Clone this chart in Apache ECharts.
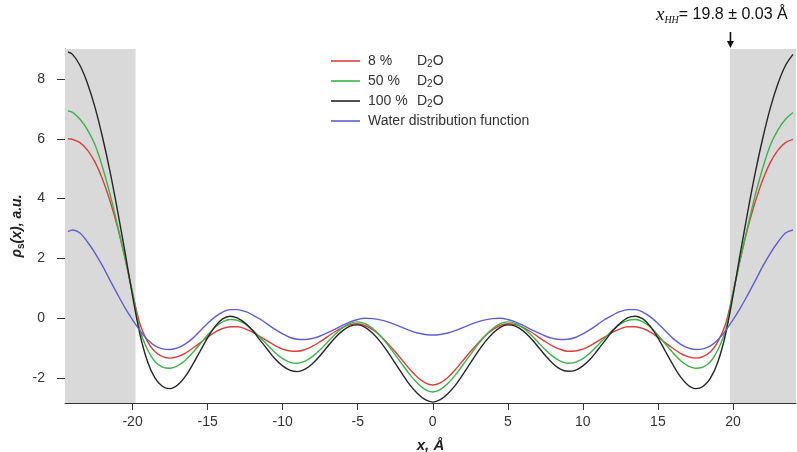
<!DOCTYPE html>
<html>
<head>
<meta charset="utf-8">
<script src="https://cdn.jsdelivr.net/npm/echarts@6/dist/echarts.min.js"></script>
<style>
  html, body { margin: 0; padding: 0; background: #ffffff; }
  #chart { width: 797px; height: 452px; }
</style>
</head>
<body>
<div id="chart"></div>
<script>
// Position across the bilayer, Å
const xValues = [
  -24.3, -24, -23.5, -23, -22.5, -22, -21.5, -21, -20.5, -20, -19.5, -19, -18.5, -18, -17.5, -17,
  -16.5, -16, -15.5, -15, -14.5, -14, -13.5, -13, -12.5, -12, -11.5, -11, -10.5, -10, -9.5, -9,
  -8.5, -8, -7.5, -7, -6.5, -6, -5.5, -5, -4.5, -4, -3.5, -3, -2.5, -2, -1.5, -1, -0.5,
  0,
  0.5, 1, 1.5, 2, 2.5, 3, 3.5, 4, 4.5, 5, 5.5, 6, 6.5, 7, 7.5, 8, 8.5, 9, 9.5, 10,
  10.5, 11, 11.5, 12, 12.5, 13, 13.5, 14, 14.5, 15, 15.5, 16, 16.5, 17, 17.5, 18,
  18.5, 19, 19.5, 20, 20.5, 21, 21.5, 22, 22.5, 23, 23.5, 24
];

// Scattering length density profiles
const d2o8 = [
  6.0, 5.98, 5.87, 5.62, 5.22, 4.65, 3.92, 3.05, 2.0, 0.85, -0.2, -0.78, -1.12, -1.28, -1.33, -1.28,
  -1.17, -1.0, -0.82, -0.63, -0.46, -0.34, -0.28, -0.28, -0.35, -0.46, -0.61, -0.76, -0.91, -1.03, -1.09, -1.1,
  -1.04, -0.93, -0.78, -0.61, -0.44, -0.3, -0.21, -0.18, -0.24, -0.38, -0.58, -0.84, -1.12, -1.42, -1.72, -1.98, -2.16,
  -2.23,
  -2.16, -1.98, -1.72, -1.42, -1.12, -0.84, -0.58, -0.38, -0.24, -0.18, -0.21, -0.3, -0.44, -0.61, -0.78, -0.93, -1.04, -1.1, -1.09, -1.03,
  -0.91, -0.76, -0.61, -0.46, -0.35, -0.28, -0.28, -0.34, -0.46, -0.63, -0.82, -1.0, -1.17, -1.28, -1.33, -1.28,
  -1.12, -0.78, -0.2, 0.85, 2.0, 3.05, 3.92, 4.65, 5.22, 5.62, 5.87, 5.98
];

const d2o50 = [
  6.93, 6.88, 6.65, 6.3, 5.8, 5.05, 4.15, 3.1, 2.0, 0.85, -0.4, -1.05, -1.45, -1.63, -1.67, -1.59,
  -1.41, -1.15, -0.86, -0.56, -0.3, -0.12, -0.04, -0.07, -0.19, -0.39, -0.64, -0.9, -1.15, -1.35, -1.47, -1.5,
  -1.43, -1.27, -1.05, -0.79, -0.53, -0.31, -0.17, -0.12, -0.18, -0.34, -0.58, -0.88, -1.22, -1.56, -1.9, -2.18, -2.38,
  -2.46,
  -2.38, -2.18, -1.9, -1.56, -1.22, -0.88, -0.58, -0.34, -0.18, -0.12, -0.17, -0.31, -0.53, -0.79, -1.05, -1.27, -1.43, -1.5, -1.47, -1.35,
  -1.15, -0.9, -0.64, -0.39, -0.19, -0.07, -0.04, -0.12, -0.3, -0.56, -0.86, -1.15, -1.41, -1.59, -1.67, -1.63,
  -1.45, -1.05, -0.4, 0.85, 2.0, 3.1, 4.15, 5.05, 5.8, 6.3, 6.65, 6.88
];

const d2o100 = [
  8.9, 8.82, 8.45, 7.85, 7.05, 6.05, 4.9, 3.6, 2.2, 0.75, -0.55, -1.45, -2.0, -2.28, -2.35, -2.23,
  -1.95, -1.55, -1.1, -0.65, -0.27, -0.02, 0.07, 0.01, -0.16, -0.41, -0.73, -1.05, -1.36, -1.59, -1.74, -1.78,
  -1.7, -1.51, -1.24, -0.94, -0.65, -0.41, -0.26, -0.22, -0.3, -0.5, -0.78, -1.12, -1.5, -1.88, -2.24, -2.52, -2.72,
  -2.8,
  -2.72, -2.52, -2.24, -1.88, -1.5, -1.12, -0.78, -0.5, -0.3, -0.22, -0.26, -0.41, -0.65, -0.94, -1.24, -1.51, -1.7, -1.77, -1.74, -1.59,
  -1.36, -1.05, -0.73, -0.41, -0.16, 0.02, 0.07, -0.02, -0.27, -0.65, -1.1, -1.55, -1.95, -2.23, -2.35, -2.28,
  -2.0, -1.45, -0.55, 0.75, 2.2, 3.6, 4.9, 6.05, 7.05, 7.85, 8.45, 8.82
];

const water = [
  2.9, 2.95, 2.85, 2.55, 2.18, 1.75, 1.27, 0.8, 0.35, -0.05, -0.42, -0.72, -0.92, -1.02, -1.04, -0.99,
  -0.86, -0.67, -0.42, -0.17, 0.05, 0.21, 0.29, 0.29, 0.23, 0.11, -0.03, -0.2, -0.37, -0.52, -0.64, -0.7,
  -0.71, -0.67, -0.59, -0.48, -0.36, -0.23, -0.12, -0.04, 0.0, -0.01, -0.05, -0.12, -0.21, -0.31, -0.41, -0.49, -0.54,
  -0.56,
  -0.54, -0.49, -0.41, -0.31, -0.21, -0.12, -0.05, -0.01, 0.0, -0.04, -0.12, -0.23, -0.36, -0.48, -0.59, -0.67, -0.71, -0.7, -0.64, -0.52,
  -0.37, -0.2, -0.03, 0.11, 0.23, 0.29, 0.29, 0.21, 0.05, -0.17, -0.42, -0.67, -0.86, -0.99, -1.04, -1.02,
  -0.92, -0.72, -0.42, -0.05, 0.35, 0.8, 1.27, 1.75, 2.18, 2.55, 2.85, 2.95
];

const seriesNames = ['8 %', '50 %', '100 %', 'Water distribution function'];
const seriesColors = ['#d8403c', '#3cb34a', '#262626', '#5f5fd0'];
const xTicks = [-20, -15, -10, -5, 0, 5, 10, 15, 20];
const yTicks = [-2, 0, 2, 4, 6, 8];
const xRange = [-24.5, 24.2];
const yRange = [-2.83, 9];
const xHH = 19.8;   // head-to-head distance half-width

const SANS = "'Liberation Sans', Arial, sans-serif";
const SERIF = "'Liberation Serif', 'Times New Roman', serif";

const chart = echarts.init(document.getElementById('chart'), null, { renderer: 'canvas' });
const pairs = ys => xValues.map((x, i) => [x, ys[i]]);

const profileSeries = [d2o8, d2o50, d2o100, water].map((ys, i) => ({
  name: seriesNames[i],
  type: 'line',
  data: pairs(ys),
  smooth: 0.35,
  symbol: 'none',
  showSymbol: false,
  z: 3,
  lineStyle: { color: seriesColors[i], width: 1.4 },
  itemStyle: { color: seriesColors[i] }
}));

const option = {
  animation: false,
  backgroundColor: '#ffffff',
  grid: { left: 65, top: 49, width: 731, height: 354, containLabel: false, outerBoundsMode: 'none' },
  legend: {
    data: seriesNames,
    orient: 'vertical',
    left: 331,
    top: 54,
    padding: 0,
    icon: 'rect',
    itemWidth: 29,
    itemHeight: 1.6,
    itemGap: 5,
    selectedMode: false,
    textStyle: {
      fontFamily: SANS, fontSize: 14, color: '#333', padding: [0, 0, 0, 3],
      rich: {
        p: { fontFamily: SANS, fontSize: 14, color: '#333', width: 49, lineHeight: 16 },
        d: { fontFamily: SANS, fontSize: 14, color: '#333', lineHeight: 16 },
        s: { fontFamily: SANS, fontSize: 10, color: '#333', lineHeight: 11, verticalAlign: 'bottom' },
        w: { fontFamily: SANS, fontSize: 14, color: '#333', lineHeight: 16 }
      }
    },
    formatter: name => name.endsWith('%')
      ? `{p|${name}}{d|D}{s|2}{d|O}`
      : `{w|${name}}`
  },
  xAxis: {
    type: 'value',
    min: xRange[0],
    max: xRange[1],
    splitLine: { show: false },
    axisLine: { show: true, onZero: false, lineStyle: { color: '#333', width: 1 } },
    axisTick: { show: true, length: 7, customValues: xTicks, lineStyle: { color: '#333' } },
    axisLabel: { customValues: xTicks, margin: 12, fontFamily: SANS, fontSize: 14, color: '#333' },
    name: 'x, Å',
    nameLocation: 'middle',
    nameGap: 35,
    nameMoveOverlap: false,
    nameTextStyle: { fontFamily: SANS, fontSize: 15, fontWeight: 'bold', fontStyle: 'italic', color: '#222' }
  },
  yAxis: {
    type: 'value',
    min: yRange[0],
    max: yRange[1],
    splitLine: { show: false },
    axisLine: { show: true, onZero: false, lineStyle: { color: '#333', width: 1 } },
    axisTick: { show: true, length: 8, customValues: yTicks, lineStyle: { color: '#333' } },
    axisLabel: { customValues: yTicks, margin: 20, fontFamily: SANS, fontSize: 14, color: '#333' },
    name: '{a|ρ}{s|s}{a|(x), a.u.}',
    nameLocation: 'middle',
    nameGap: 39,
    nameMoveOverlap: false,
    nameRotate: 90,
    nameTextStyle: {
      rich: {
        a: { fontFamily: SANS, fontSize: 14, fontWeight: 'bold', fontStyle: 'italic', color: '#222', lineHeight: 17 },
        s: { fontFamily: SANS, fontSize: 10, fontWeight: 'bold', color: '#222', lineHeight: 11, verticalAlign: 'bottom' }
      }
    }
  },
  series: [
    {
      name: 'shading',
      type: 'line',
      data: [],
      silent: true,
      z: 1,
      markArea: {
        silent: true,
        itemStyle: { color: '#d9d9d9' },
        data: [
          [{ xAxis: xRange[0] }, { xAxis: -xHH }],
          [{ xAxis: xHH }, { xAxis: xRange[1] }]
        ]
      }
    },
    ...profileSeries
  ]
};

chart.setOption(option);

// Arrow and label marking the head-to-head position
const [ax, ay] = chart.convertToPixel({ gridIndex: 0 }, [xHH, yRange[1]]);
chart.setOption({
  graphic: [
    {
      type: 'line',
      shape: { x1: ax + 0.5, y1: ay - 17, x2: ax + 0.5, y2: ay - 6 },
      style: { stroke: '#111', lineWidth: 1.6 }
    },
    {
      type: 'polygon',
      shape: { points: [[ax - 3, ay - 8], [ax + 4, ay - 8], [ax + 0.5, ay - 1]] },
      style: { fill: '#111' }
    },
    {
      type: 'text',
      x: ax - 74,
      y: ay - 34,
      style: {
        text: '{x|x}{h|HH}{t|= 19.8 ± 0.03 Å}',
        verticalAlign: 'middle',
        rich: {
          x: { fontFamily: SERIF, fontStyle: 'italic', fontSize: 19, fill: '#111', lineHeight: 20 },
          h: { fontFamily: SERIF, fontStyle: 'italic', fontSize: 10, fill: '#111', lineHeight: 12, verticalAlign: 'bottom' },
          t: { fontFamily: SANS, fontSize: 16, fill: '#111', lineHeight: 20 }
        }
      }
    }
  ]
});
</script>
</body>
</html>
